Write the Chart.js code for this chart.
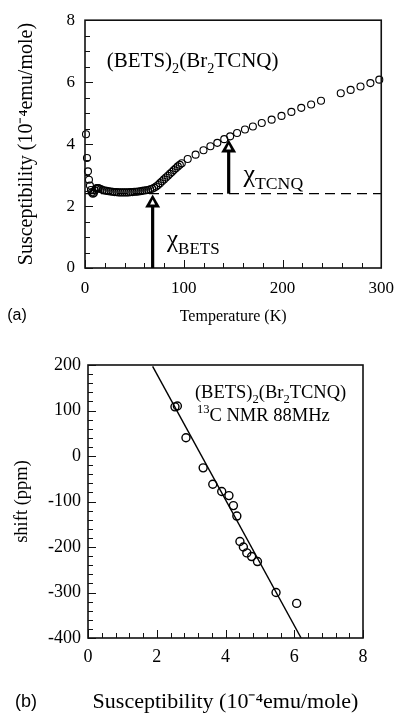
<!DOCTYPE html>
<html><head><meta charset="utf-8">
<script src="https://cdn.jsdelivr.net/npm/chart.js@4.4.0/dist/chart.umd.min.js"></script>
<style>
html,body{margin:0;padding:0;background:#fff;}
#wrap{position:relative;width:404px;height:721px;overflow:hidden;}
canvas{position:absolute;left:0;}
#c1{top:0;} #c2{top:340px;}
</style></head><body>
<div id="wrap"><canvas id="c1" width="404" height="340"></canvas><canvas id="c2" width="404" height="381"></canvas></div>
<script>
// ---------- data: panel (a) ----------
const tempK = [1,2,3,4,5,6,7,8,9,10,11,12,13,14,16,18,20,22,24,26,28,30,32,34,36,38,40,42,44,46,48,50,52,54,56,58,60,62,64,66,68,70,72,74,76,78,80,82,84,86,88,90,92,94,96,98,
  104,112,120,127,134,141,147,154,162,170,179,189,199,209,219,229,239,259,269,279,289,298];
const chiTop = [4.32,3.55,3.12,2.85,2.66,2.52,2.44,2.40,2.42,2.50,2.56,2.58,2.58,2.57,2.55,2.52,2.50,2.49,2.48,2.47,2.46,2.45,2.45,2.44,2.44,2.44,2.44,2.44,2.44,2.45,2.45,2.46,2.46,2.47,2.48,2.49,2.50,2.51,2.52,2.54,2.56,2.59,2.63,2.68,2.74,2.80,2.86,2.92,2.98,3.04,3.10,3.16,3.22,3.28,3.33,3.38,
  3.52,3.66,3.80,3.93,4.04,4.16,4.25,4.36,4.47,4.57,4.68,4.79,4.91,5.04,5.17,5.28,5.40,5.64,5.75,5.86,5.97,6.08];
const dashT = [0, 300];
const dashChi = [2.4, 2.4];
const arrowT = [68.5, 145.5];
const arrowFrom = [0, 2.4];
const arrowTo = [2.37, 4.15];
const topXTicks = [0, 100, 200, 300];
const topYTicks = [0, 2, 4, 6, 8];

// ---------- data: panel (b) ----------
const chiBottom = [2.53,2.60,2.85,3.35,3.63,3.89,4.10,4.23,4.33,4.42,4.52,4.62,4.76,4.93,5.47,6.07];
const shiftPpm  = [108,110,40,-26,-62,-78,-87,-109,-132,-188,-200,-213,-221,-232,-300,-324];
const fitChi = [1.88, 6.2];
const fitShift = [197, -400];
const botXTicks = [0, 2, 4, 6, 8];
const botYTicks = [-400, -300, -200, -100, 0, 100, 200];

const SERIF = "'Liberation Serif', 'Times New Roman', serif";
const SANS = "'Liberation Sans', Arial, sans-serif";

function drawRich(ctx, x, y, runs, size) {
  let cx = x;
  ctx.textBaseline = 'alphabetic';
  ctx.textAlign = 'left';
  for (const [t, k] of runs) {
    const s = k === 0 ? size : size * 0.68;
    const dy = k === 1 ? size * 0.28 : (k === 2 ? -size * 0.42 : 0);
    ctx.font = s + 'px ' + SERIF;
    ctx.fillText(t, cx, y + dy);
    cx += ctx.measureText(t).width;
  }
}

const frameTicks = {
  id: 'frameTicks',
  afterDraw(chart, args, o) {
    const {ctx, chartArea: a, scales: {x, y}} = chart;
    ctx.save();
    ctx.strokeStyle = '#111';
    ctx.lineWidth = o.frameWidth;
    ctx.strokeRect(a.left, a.top, a.right - a.left, a.bottom - a.top);
    ctx.lineWidth = 1;
    ctx.beginPath();
    const nx = Math.round((x.max - x.min) / o.xMinor);
    for (let i = 0; i <= nx; i++) {
      const v = x.min + i * o.xMinor;
      const r = v / o.xMajor;
      const major = Math.abs(r - Math.round(r)) < 1e-6;
      const px = Math.round(x.getPixelForValue(v)) + 0.5;
      ctx.moveTo(px, a.bottom);
      ctx.lineTo(px, a.bottom - (major ? o.majorLen : o.minorLen));
    }
    const ny = Math.round((y.max - y.min) / o.yMinor);
    for (let i = 0; i <= ny; i++) {
      const v = y.min + i * o.yMinor;
      const r = v / o.yMajor;
      const major = Math.abs(r - Math.round(r)) < 1e-6;
      const py = Math.round(y.getPixelForValue(v)) + 0.5;
      ctx.moveTo(a.left, py);
      ctx.lineTo(a.left + (major ? o.majorLen : o.minorLen), py);
    }
    ctx.stroke();
    ctx.restore();
  }
};

const notesTop = {
  id: 'notesTop',
  afterDraw(chart) {
    const {ctx, scales: {x, y}} = chart;
    ctx.save();
    ctx.fillStyle = '#000';
    ctx.strokeStyle = '#000';
    for (let i = 0; i < arrowT.length; i++) {
      const px = x.getPixelForValue(arrowT[i]);
      const y0 = y.getPixelForValue(arrowFrom[i]);
      const y1 = y.getPixelForValue(arrowTo[i]);
      const hh = 13, hw = 7.5;
      ctx.lineWidth = 3.2;
      ctx.beginPath(); ctx.moveTo(px, y0); ctx.lineTo(px, y1 + hh - 1); ctx.stroke();
      ctx.beginPath(); ctx.moveTo(px, y1); ctx.lineTo(px - hw, y1 + hh); ctx.lineTo(px + hw, y1 + hh); ctx.closePath(); ctx.fill();
      ctx.fillStyle = '#fff';
      ctx.beginPath(); ctx.moveTo(px, y1 + 5); ctx.lineTo(px - 2.5, y1 + 10); ctx.lineTo(px + 2.5, y1 + 10); ctx.closePath(); ctx.fill();
      ctx.fillStyle = '#000';
    }
    drawRich(ctx, x.getPixelForValue(22), y.getPixelForValue(6.72) + 7,
      [['(BETS)', 0], ['2', 1], ['(Br', 0], ['2', 1], ['TCNQ)', 0]], 21);
    drawRich(ctx, x.getPixelForValue(160.5), y.getPixelForValue(2.92) + 4,
      [['\u03C7', 0], ['TCNQ', 1]], 26);
    drawRich(ctx, x.getPixelForValue(83), y.getPixelForValue(0.82) + 4,
      [['\u03C7', 0], ['BETS', 1]], 25);
    ctx.font = '16px ' + SANS;
    ctx.textAlign = 'center'; ctx.textBaseline = 'middle';
    ctx.fillText('(a)', 17, 316);
    ctx.restore();
  }
};

const notesBot = {
  id: 'notesBot',
  afterDraw(chart) {
    const {ctx, scales: {x, y}} = chart;
    ctx.save();
    ctx.fillStyle = '#000';
    drawRich(ctx, x.getPixelForValue(3.11), y.getPixelForValue(141) + 6,
      [['(BETS)', 0], ['2', 1], ['(Br', 0], ['2', 1], ['TCNQ)', 0]], 18.5);
    drawRich(ctx, x.getPixelForValue(3.17), y.getPixelForValue(90) + 6,
      [['13', 2], ['C NMR 88MHz', 0]], 18.5);
    ctx.font = '18px ' + SANS;
    ctx.textAlign = 'center'; ctx.textBaseline = 'middle';
    ctx.fillText('(b)', 26, 362);
    ctx.restore();
  }
};

Chart.defaults.font.family = SERIF;
Chart.defaults.color = '#000';

const tickFont = {family: SERIF, size: 17};

new Chart(document.getElementById('c1'), {
  type: 'scatter',
  data: {
    datasets: [
      {data: tempK.map((t, i) => ({x: t, y: chiTop[i]})), showLine: false, pointRadius: 3.5,
       pointBorderWidth: 1.1, pointBorderColor: '#000', pointBackgroundColor: 'rgba(0,0,0,0)', clip: false},
      {data: dashT.map((t, i) => ({x: t, y: dashChi[i]})), showLine: true, pointRadius: 0,
       borderColor: '#000', borderWidth: 1.4, borderDash: [10, 6]}
    ]
  },
  options: {
    responsive: false, animation: false,
    layout: {padding: {left: 0, right: 20, top: 12, bottom: 0}},
    plugins: {legend: {display: false}, tooltip: {enabled: false},
      frameTicks: {frameWidth: 1.6, xMinor: 20, xMajor: 100, yMinor: 0.5, yMajor: 2, majorLen: 8, minorLen: 5}},
    scales: {
      x: {type: 'linear', min: 0, max: 300,
        afterBuildTicks: s => { s.ticks = topXTicks.map(v => ({value: v})); },
        afterFit: s => { s.height = 72; },
        grid: {display: false, drawTicks: false}, border: {display: false},
        ticks: {font: tickFont, padding: 10, maxRotation: 0},
        title: {display: true, text: 'Temperature (K)', font: {family: SERIF, size: 16}, padding: {top: 0, bottom: 14}}},
      y: {type: 'linear', min: 0, max: 8,
        afterBuildTicks: s => { s.ticks = topYTicks.map(v => ({value: v})); },
        afterFit: s => { s.width = 85; },
        grid: {display: false, drawTicks: false}, border: {display: false},
        ticks: {font: tickFont, padding: 10},
        title: {display: true, text: 'Susceptibility (10\u207B\u2074emu/mole)', font: {family: SERIF, size: 20}, padding: {top: 15, bottom: 0}}}
    }
  },
  plugins: [frameTicks, notesTop]
});

new Chart(document.getElementById('c2'), {
  type: 'scatter',
  data: {
    datasets: [
      {data: chiBottom.map((c, i) => ({x: c, y: shiftPpm[i]})), showLine: false, pointRadius: 4,
       pointBorderWidth: 1.4, pointBorderColor: '#000', pointBackgroundColor: 'rgba(0,0,0,0)', clip: false},
      {data: fitChi.map((c, i) => ({x: c, y: fitShift[i]})), showLine: true, pointRadius: 0,
       borderColor: '#000', borderWidth: 1.4}
    ]
  },
  options: {
    responsive: false, animation: false,
    layout: {padding: {left: 0, right: 41, top: 25, bottom: 0}},
    plugins: {legend: {display: false}, tooltip: {enabled: false},
      frameTicks: {frameWidth: 1.6, xMinor: 0.4, xMajor: 2, yMinor: 20, yMajor: 100, majorLen: 8, minorLen: 5}},
    scales: {
      x: {type: 'linear', min: 0, max: 8,
        afterBuildTicks: s => { s.ticks = botXTicks.map(v => ({value: v})); },
        afterFit: s => { s.height = 83; },
        grid: {display: false, drawTicks: false}, border: {display: false},
        ticks: {font: {family: SERIF, size: 18}, padding: 8, maxRotation: 0},
        title: {display: true, text: 'Susceptibility (10\u207B\u2074emu/mole)', font: {family: SERIF, size: 22}, padding: {top: 0, bottom: 6}}},
      y: {type: 'linear', min: -400, max: 200,
        afterBuildTicks: s => { s.ticks = botYTicks.map(v => ({value: v})); },
        afterFit: s => { s.width = 88; },
        grid: {display: false, drawTicks: false}, border: {display: false},
        ticks: {font: {family: SERIF, size: 18}, padding: 7},
        title: {display: true, text: 'shift (ppm)', font: {family: SERIF, size: 18.5}, padding: {top: 11, bottom: 0}}}
    }
  },
  plugins: [frameTicks, notesBot]
});
</script>
</body></html>
